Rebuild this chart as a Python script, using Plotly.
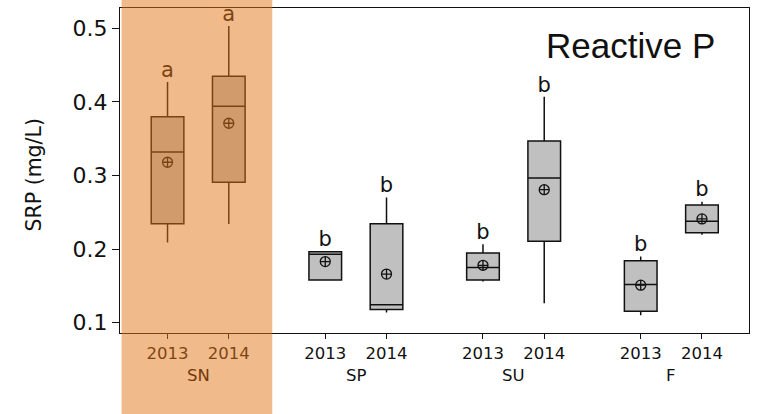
import plotly.graph_objects as go

# Seasons and sampling years
seasons = ["SN", "SP", "SU", "F"]
years = ["2013", "2014"]

# Box statistics for soluble reactive phosphorus (mg/L), ordered SN13, SN14, SP13, SP14, SU13, SU14, F13, F14
lower_fence = [0.209, 0.234, 0.157, 0.114, 0.156, 0.1264, 0.110, 0.2196]
q1_vals = [0.2345, 0.291, 0.158, 0.118, 0.158, 0.2106, 0.1155, 0.2223]
median_vals = [0.332, 0.394, 0.193, 0.1245, 0.175, 0.2966, 0.152, 0.2378]
q3_vals = [0.380, 0.435, 0.1965, 0.2345, 0.1947, 0.347, 0.1842, 0.260]
upper_fence = [0.427, 0.503, 0.197, 0.270, 0.2065, 0.407, 0.190, 0.2644]
mean_vals = [0.318, 0.371, 0.183, 0.166, 0.178, 0.2807, 0.151, 0.241]
group_letters = ["a", "a", "b", "b", "b", "b", "b", "b"]

# Layout of categories along a numeric axis: years side by side, seasons separated by a gap
group_step = 2.575
positions = [g * group_step + j for g in range(len(seasons)) for j in range(len(years))]
tick_text = [y for _ in seasons for y in years]
group_centers = [g * group_step + 0.5 for g in range(len(seasons))]

x_range = [-0.776, 9.493]
y_range = [0.086, 0.5276]
snow_band = [-0.75, 1.71]  # data-unit extent of the highlighted snow season

W, H = 780, 414
m_l, m_r, m_t, m_b = 120, 31, 8, 81
plot_w = W - m_l - m_r
plot_h = H - m_t - m_b

def to_paper_x(v):
    return (v - x_range[0]) / (x_range[1] - x_range[0])

fig = go.Figure()

fig.add_trace(go.Box(
    x=positions,
    q1=q1_vals,
    median=median_vals,
    q3=q3_vals,
    lowerfence=lower_fence,
    upperfence=upper_fence,
    width=0.533,
    whiskerwidth=0,
    fillcolor="#c0c0c0",
    line=dict(color="#111111", width=1.5),
    boxpoints=False,
    showlegend=False,
    hoverinfo="skip",
))

# Means drawn as circled crosses
fig.add_trace(go.Scatter(
    x=positions,
    y=mean_vals,
    mode="markers",
    marker=dict(symbol="circle-cross-open", size=10, color="#111111",
                line=dict(width=1.3, color="#111111")),
    showlegend=False,
    hoverinfo="skip",
))

# Significance letters above the upper whiskers
fig.add_trace(go.Scatter(
    x=positions,
    y=upper_fence,
    mode="text",
    text=group_letters,
    textposition="top center",
    textfont=dict(family="DejaVu Sans", size=21, color="#111111"),
    cliponaxis=False,
    showlegend=False,
    hoverinfo="skip",
))

# Translucent orange band over the snow season, spanning the full figure height
fig.add_shape(
    type="rect",
    xref="paper", yref="paper",
    x0=to_paper_x(snow_band[0]), x1=to_paper_x(snow_band[1]),
    y0=-m_b / plot_h, y1=1 + m_t / plot_h,
    fillcolor="rgba(227,117,21,0.5)",
    line=dict(width=0),
    layer="above",
)

# Season labels beneath the year ticks
for s, c in zip(seasons, group_centers):
    fig.add_annotation(
        x=c, xref="x", y=-(375 - (H - m_b)) / plot_h, yref="paper",
        text=s, showarrow=False, xanchor="center", yanchor="middle",
        font=dict(family="DejaVu Sans", size=16.5,
                  color="#71390a" if s == "SN" else "#111111"),
    )

fig.add_annotation(
    x=(34 - m_l) / plot_w, xref="paper", y=0.5 - 5 / plot_h, yref="paper",
    text="SRP (mg/L)", textangle=-90, showarrow=False,
    xanchor="center", yanchor="middle",
    font=dict(family="DejaVu Sans", size=20.5, color="#111111"),
)

fig.add_annotation(
    x=(630 - m_l) / plot_w, xref="paper", y=1 - (46 - m_t) / plot_h, yref="paper",
    text="Reactive P", showarrow=False, xanchor="center", yanchor="middle",
    font=dict(family="Liberation Sans", size=35, color="#111111"),
)

fig.update_layout(
    width=W, height=H,
    margin=dict(l=m_l, r=m_r, t=m_t, b=m_b),
    paper_bgcolor="white",
    plot_bgcolor="white",
    xaxis=dict(
        range=x_range,
        tickmode="array", tickvals=positions, ticktext=tick_text,
        ticks="outside", ticklen=5, tickcolor="#111111",
        tickfont=dict(family="DejaVu Sans", size=16.5, color="#111111"),
        showgrid=False, zeroline=False,
        showline=True, linecolor="#111111", linewidth=1, mirror=True,
    ),
    yaxis=dict(
        range=y_range,
        tickvals=[0.1, 0.2, 0.3, 0.4, 0.5],
        ticktext=["0.1", "0.2", "0.3", "0.4", "0.5"],
        ticks="outside", ticklen=7, tickcolor="#111111",
        tickfont=dict(family="DejaVu Sans", size=22, color="#111111"),
        showgrid=False, zeroline=False,
        showline=True, linecolor="#111111", linewidth=1, mirror=True,
    ),
)

fig.write_html("out.html")
